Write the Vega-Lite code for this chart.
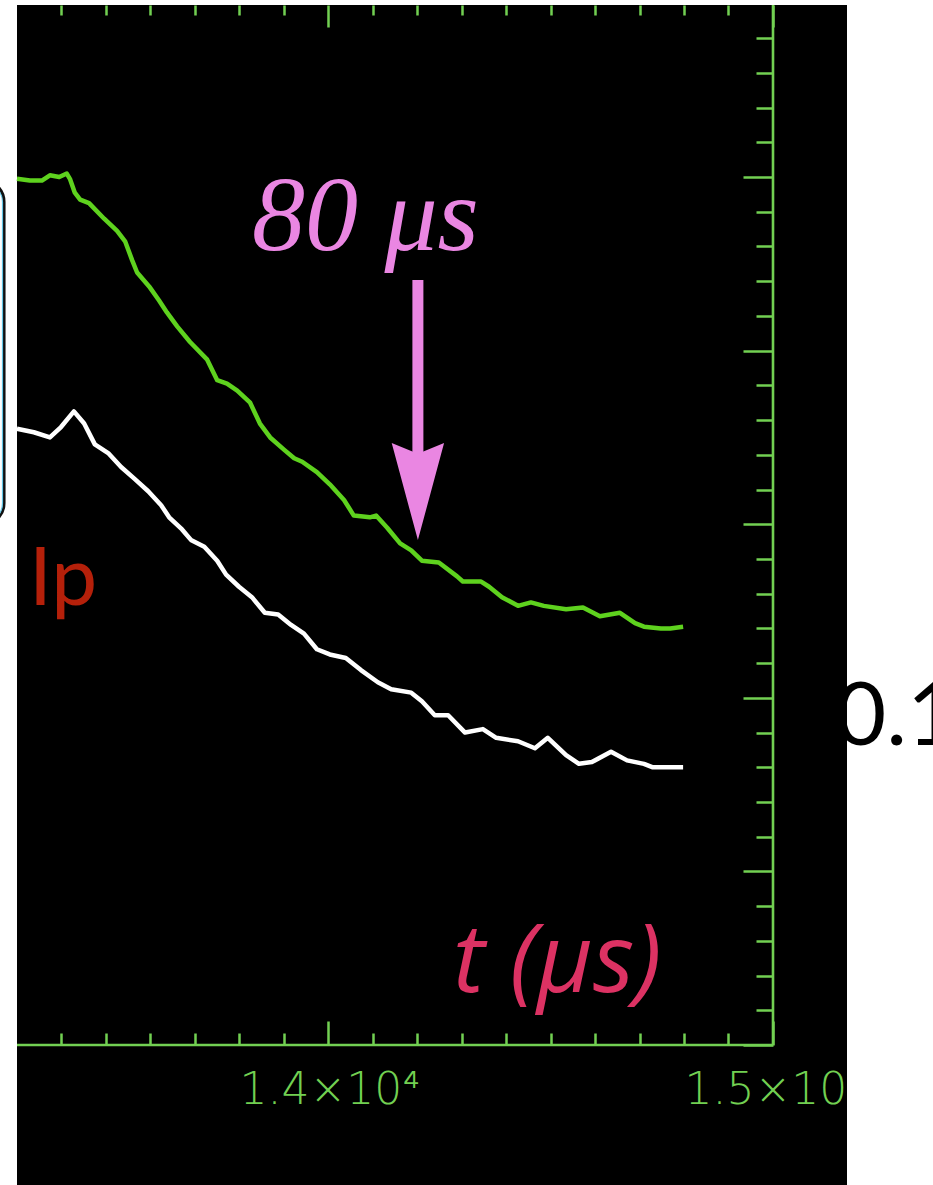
{
  "$schema": "https://vega.github.io/schema/vega-lite/v6.json",
  "autosize": "none",
  "padding": {"left": 17, "top": 5, "right": 86, "bottom": 0},
  "width": 830,
  "height": 1180,
  "background": "white",
  "view": {"fill": "black", "stroke": null},
  "config": {"axis": {"grid": false}},
  "datasets": {
    "green": [
      {"t": 13301, "v": 4.99}, {"t": 13330, "v": 4.98}, {"t": 13357, "v": 4.98}, {"t": 13375, "v": 5.01},
      {"t": 13396, "v": 5.0}, {"t": 13413, "v": 5.02}, {"t": 13420, "v": 4.99}, {"t": 13431, "v": 4.91},
      {"t": 13443, "v": 4.87}, {"t": 13463, "v": 4.85}, {"t": 13497, "v": 4.76}, {"t": 13526, "v": 4.69},
      {"t": 13544, "v": 4.63}, {"t": 13560, "v": 4.52}, {"t": 13571, "v": 4.45}, {"t": 13598, "v": 4.37},
      {"t": 13620, "v": 4.29}, {"t": 13638, "v": 4.22}, {"t": 13661, "v": 4.14}, {"t": 13690, "v": 4.05},
      {"t": 13728, "v": 3.95}, {"t": 13751, "v": 3.83}, {"t": 13773, "v": 3.81}, {"t": 13796, "v": 3.77},
      {"t": 13825, "v": 3.7}, {"t": 13847, "v": 3.58}, {"t": 13870, "v": 3.5}, {"t": 13901, "v": 3.43},
      {"t": 13924, "v": 3.38}, {"t": 13942, "v": 3.36}, {"t": 13975, "v": 3.3}, {"t": 14004, "v": 3.23},
      {"t": 14036, "v": 3.14}, {"t": 14058, "v": 3.05}, {"t": 14094, "v": 3.04}, {"t": 14108, "v": 3.05},
      {"t": 14133, "v": 2.98}, {"t": 14162, "v": 2.89}, {"t": 14187, "v": 2.85}, {"t": 14211, "v": 2.79},
      {"t": 14249, "v": 2.78}, {"t": 14290, "v": 2.7}, {"t": 14303, "v": 2.67}, {"t": 14344, "v": 2.67},
      {"t": 14362, "v": 2.64}, {"t": 14391, "v": 2.58}, {"t": 14427, "v": 2.53}, {"t": 14456, "v": 2.55},
      {"t": 14485, "v": 2.53}, {"t": 14535, "v": 2.51}, {"t": 14573, "v": 2.52}, {"t": 14611, "v": 2.47},
      {"t": 14656, "v": 2.49}, {"t": 14690, "v": 2.43}, {"t": 14710, "v": 2.41}, {"t": 14748, "v": 2.4},
      {"t": 14769, "v": 2.4}, {"t": 14798, "v": 2.41}
    ],
    "white": [
      {"t": 13301, "v": 3.55}, {"t": 13339, "v": 3.53}, {"t": 13375, "v": 3.5}, {"t": 13400, "v": 3.56},
      {"t": 13429, "v": 3.65}, {"t": 13452, "v": 3.58}, {"t": 13476, "v": 3.46}, {"t": 13506, "v": 3.41},
      {"t": 13535, "v": 3.33}, {"t": 13566, "v": 3.26}, {"t": 13596, "v": 3.19}, {"t": 13625, "v": 3.11},
      {"t": 13643, "v": 3.04}, {"t": 13672, "v": 2.97}, {"t": 13692, "v": 2.91}, {"t": 13722, "v": 2.87},
      {"t": 13751, "v": 2.79}, {"t": 13771, "v": 2.71}, {"t": 13800, "v": 2.64}, {"t": 13829, "v": 2.58},
      {"t": 13858, "v": 2.49}, {"t": 13888, "v": 2.48}, {"t": 13917, "v": 2.42}, {"t": 13946, "v": 2.37},
      {"t": 13975, "v": 2.28}, {"t": 14004, "v": 2.25}, {"t": 14040, "v": 2.23}, {"t": 14074, "v": 2.16},
      {"t": 14112, "v": 2.09}, {"t": 14142, "v": 2.05}, {"t": 14187, "v": 2.03}, {"t": 14211, "v": 1.98},
      {"t": 14240, "v": 1.9}, {"t": 14270, "v": 1.9}, {"t": 14308, "v": 1.8}, {"t": 14348, "v": 1.82},
      {"t": 14378, "v": 1.77}, {"t": 14427, "v": 1.75}, {"t": 14465, "v": 1.71}, {"t": 14494, "v": 1.77},
      {"t": 14535, "v": 1.67}, {"t": 14564, "v": 1.62}, {"t": 14593, "v": 1.63}, {"t": 14636, "v": 1.69},
      {"t": 14672, "v": 1.64}, {"t": 14710, "v": 1.62}, {"t": 14730, "v": 1.6}, {"t": 14798, "v": 1.6}
    ]
  },
  "encoding": {
    "x": {"field": "t", "type": "quantitative", "scale": {"domain": [13301.1, 15166.3], "nice": false, "zero": false}, "axis": null},
    "y": {"field": "v", "type": "quantitative", "scale": {"domain": [-0.806, 5.991], "nice": false, "zero": false}, "axis": null}
  },
  "layer": [
    {
      "data": {"values": [
        {"t": 12813, "t2": 13272, "v": 4.983, "v2": 2.995}
      ]},
      "mark": {"type": "rect", "fillOpacity": 0, "stroke": "#111111", "strokeWidth": 3, "cornerRadius": 22, "clip": false},
      "encoding": {"x2": {"field": "t2"}, "y2": {"field": "v2"}}
    },
    {
      "data": {"values": [
        {"t": 12813, "t2": 13268.5, "v": 4.971, "v2": 3.007}
      ]},
      "mark": {"type": "rect", "fillOpacity": 0, "stroke": "#63c6e6", "strokeWidth": 1.2, "cornerRadius": 20, "clip": false},
      "encoding": {"x2": {"field": "t2"}, "y2": {"field": "v2"}}
    },
    {
      "data": {"values": [
        {"t": 15000, "t2": 15000, "v": 0, "v2": 5.991},
        {"t": 13301.1, "t2": 15000, "v": 0, "v2": 0}
      ]},
      "mark": {"type": "rule", "color": "#72d052", "strokeWidth": 2.6},
      "encoding": {"x2": {"field": "t2"}, "y2": {"field": "v2"}}
    },
    {
      "data": {"name": "green"},
      "mark": {"type": "line", "color": "#5ed21e", "strokeWidth": 4.5, "strokeJoin": "round"},
      "encoding": {
        "x": {"field": "t", "type": "quantitative", "scale": {"domain": [13301.1, 15166.3], "nice": false, "zero": false},
          "axis": {"orient": "bottom", "offset": -140, "title": null, "domain": false, "grid": false,
            "values": [13400, 13500, 13600, 13700, 13800, 13900, 14000, 14100, 14200, 14300, 14400, 14500, 14600, 14700, 14800, 14900, 15000],
            "tickColor": "#72d052", "tickWidth": 2.5,
            "tickSize": {"condition": {"test": "datum.value % 1000 === 0", "value": -24}, "value": -12},
            "labelExpr": "datum.value === 14000 ? '1.4×10⁴' : (datum.value === 15000 ? '1.5×10' : '')",
            "labelAlign": "left", "labelOffset": -89, "labelBaseline": "alphabetic", "labelPadding": 82,
            "labelFont": "DejaVu Sans", "labelFontWeight": 200, "labelFontSize": 44, "labelColor": "#72d052",
            "labelLimit": 0, "labelOverlap": false, "labelFlush": false, "labelBound": false}},
        "y": {"field": "v", "type": "quantitative", "scale": {"domain": [-0.806, 5.991], "nice": false, "zero": false},
          "axis": {"orient": "right", "offset": -74, "title": null, "domain": false, "grid": false, "labels": false,
            "values": [0, 0.2, 0.4, 0.6, 0.8, 1, 1.2, 1.4, 1.6, 1.8, 2, 2.2, 2.4, 2.6, 2.8, 3, 3.2, 3.4, 3.6, 3.8, 4, 4.2, 4.4, 4.6, 4.8, 5, 5.2, 5.4, 5.6, 5.8],
            "tickColor": "#72d052", "tickWidth": 2.5,
            "tickSize": {"condition": {"test": "abs(datum.value - round(datum.value)) < 0.01", "value": -30}, "value": -17}}}
      }
    },
    {
      "data": {"name": "white"},
      "mark": {"type": "line", "color": "#ffffff", "strokeWidth": 4.5, "strokeJoin": "round"},
      "encoding": {
        "x": {"field": "t", "type": "quantitative", "scale": {"domain": [13301.1, 15166.3], "nice": false, "zero": false},
          "axis": {"orient": "top", "offset": 0, "title": null, "domain": false, "grid": false, "labels": false,
            "values": [13400, 13500, 13600, 13700, 13800, 13900, 14000, 14100, 14200, 14300, 14400, 14500, 14600, 14700, 14800, 14900, 15000],
            "tickColor": "#72d052", "tickWidth": 2.5,
            "tickSize": {"condition": {"test": "datum.value % 1000 === 0", "value": -22}, "value": -10}}}
      }
    },
    {
      "data": {"values": [{"t": 14202, "v": 4.407, "v2": 3.4}]},
      "mark": {"type": "rule", "color": "#ea86e2", "strokeWidth": 11},
      "encoding": {"y2": {"field": "v2"}}
    },
    {
      "data": {"values": [{"t": 14202, "v": 3.188}]},
      "mark": {"type": "point", "shape": "M-0.54,-1L0,1L0.54,-1L0,-0.78Z", "size": 9409, "filled": true, "color": "#ea86e2", "opacity": 1, "strokeWidth": 0},
      "encoding": {}
    },
    {
      "data": {"values": [{"t": 13829, "v": 4.579, "label": "80 μs"}]},
      "mark": {"type": "text", "align": "left", "baseline": "alphabetic", "font": "Liberation Serif", "fontStyle": "italic", "fontSize": 106, "color": "#ea86e2"},
      "encoding": {"text": {"field": "label"}}
    },
    {
      "data": {"values": [{"t": 14281, "v": 0.305, "label": "t (μs)"}]},
      "mark": {"type": "text", "align": "left", "baseline": "alphabetic", "font": "Open Sans", "fontStyle": "italic", "fontSize": 96, "color": "#dc3263"},
      "encoding": {"text": {"field": "label"}}
    },
    {
      "data": {"values": [{"t": 13328, "v": 2.535, "label": "Ip"}]},
      "mark": {"type": "text", "align": "left", "baseline": "alphabetic", "font": "Lato", "fontSize": 82, "color": "#b5200a"},
      "encoding": {"text": {"field": "label"}}
    },
    {
      "data": {"values": [{"t": 15140, "v": 1.728, "label": "0.1"}]},
      "mark": {"type": "text", "align": "left", "baseline": "alphabetic", "font": "Lato", "fontSize": 88, "color": "#000000", "clip": false},
      "encoding": {"text": {"field": "label"}}
    }
  ],
  "resolve": {"axis": {"x": "independent", "y": "independent"}}
}
